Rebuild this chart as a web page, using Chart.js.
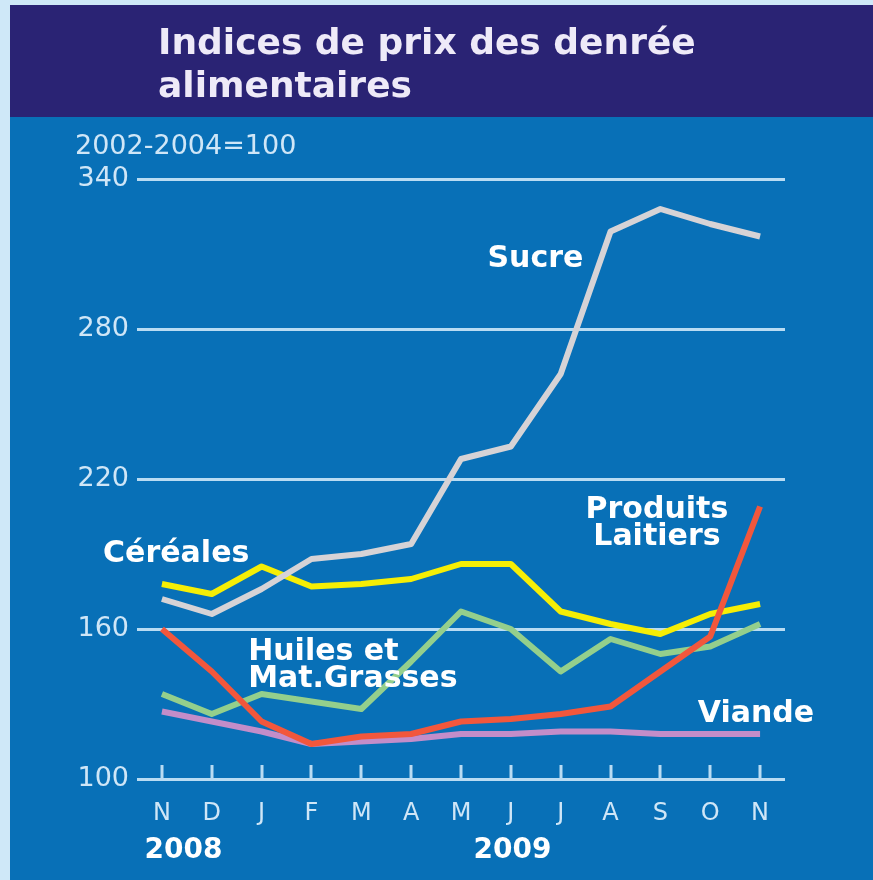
<!DOCTYPE html>
<html>
<head>
<meta charset="utf-8">
<script src="https://cdn.jsdelivr.net/npm/chart.js@4.4.1/dist/chart.umd.min.js"></script>
<style>
  html, body { margin: 0; padding: 0; background: #cfe8f8; }
  #chart { display: block; }
</style>
</head>
<body>
<canvas id="chart" width="873" height="880"></canvas>
<script>
// mois nov. 2008 -> nov. 2009
const months = ["N", "D", "J", "F", "M", "A", "M", "J", "J", "A", "S", "O", "N"];
const years = [{ text: "2008", idx: -0.35 }, { text: "2009", idx: 6.25 }];

// indices (2002-2004=100)
const sucre    = [172, 166, 176, 188, 190, 194, 228, 233, 262, 319, 328, 322, 317];
const cereales = [178, 174, 185, 177, 178, 180, 186, 186, 167, 162, 158, 166, 170];
const huiles   = [134, 126, 134, 131, 128, 147, 167, 160, 143, 156, 150, 153, 162];
const laitiers = [160, 143, 123, 114, 117, 118, 123, 124, 126, 129, 143, 157, 209];
const viande   = [127, 123, 119, 114, 115, 116, 118, 118, 119, 119, 118, 118, 118];

const yTicks = [100, 160, 220, 280, 340];

// étiquettes des séries, ancrées en unités de données (index du mois, valeur)
const seriesLabels = [
  { lines: ["Sucre"], idx: 6.53, val: 304.8, align: "left" },
  { lines: ["Céréales"], idx: -1.18, val: 186.8, align: "left" },
  { lines: ["Huiles et", "Mat.Grasses"], idx: 1.73, val: 147.6, align: "left" },
  { lines: ["Produits", "Laitiers"], idx: 9.93, val: 204.4, align: "center" },
  { lines: ["Viande"], idx: 10.75, val: 122.8, align: "left" }
];

const LIGHT = "#cfe6f7";
const GRID = "#b9dcf3";

const decor = {
  id: "decor",
  beforeDraw(chart) {
    const { ctx, width, height } = chart;
    ctx.save();
    ctx.fillStyle = "#cfe8f8";
    ctx.fillRect(0, 0, width, height);
    ctx.fillStyle = "#2a2374";
    ctx.fillRect(10, 5, width - 10, 112);
    ctx.fillStyle = "#0870b7";
    ctx.fillRect(10, 117, width - 10, height - 117);

    ctx.fillStyle = "#eeeaf8";
    ctx.font = "bold 36px 'DejaVu Sans'";
    ctx.textBaseline = "alphabetic";
    ctx.fillText("Indices de prix des denrée", 158, 54);
    ctx.fillText("alimentaires", 158, 97);

    ctx.fillStyle = LIGHT;
    ctx.font = "27px 'DejaVu Sans'";
    ctx.fillText("2002-2004=100", 75, 154);
    ctx.restore();
  },
  beforeDatasetsDraw(chart) {
    const { ctx, scales: { x, y } } = chart;
    const base = y.getPixelForValue(yTicks[0]);
    ctx.save();
    ctx.strokeStyle = GRID;
    ctx.lineWidth = 3;
    months.forEach((m, i) => {
      const px = Math.round(x.getPixelForValue(i));
      ctx.beginPath();
      ctx.moveTo(px, base - 14);
      ctx.lineTo(px, base - 1);
      ctx.stroke();
    });
    ctx.restore();
  },
  afterDraw(chart) {
    const { ctx, scales: { x, y } } = chart;
    ctx.save();
    ctx.fillStyle = "#ffffff";
    ctx.font = "bold 30px 'DejaVu Sans'";
    ctx.textBaseline = "alphabetic";
    seriesLabels.forEach(l => {
      ctx.textAlign = l.align;
      const px = x.getPixelForValue(l.idx);
      const py = y.getPixelForValue(l.val);
      l.lines.forEach((t, k) => ctx.fillText(t, px, py + k * 27));
    });
    ctx.textAlign = "left";
    ctx.font = "bold 28px 'DejaVu Sans'";
    years.forEach(yr => ctx.fillText(yr.text, x.getPixelForValue(yr.idx), 858));
    ctx.restore();
  }
};

const line = (data, color) => ({
  data,
  borderColor: color,
  borderWidth: 6,
  pointRadius: 0,
  tension: 0,
  borderJoinStyle: "round",
  fill: false
});

new Chart(document.getElementById("chart"), {
  type: "line",
  data: {
    labels: months,
    datasets: [
      line(laitiers, "#f2573c"),
      line(sucre, "#d6d3d6"),
      line(cereales, "#f6ee05"),
      line(huiles, "#94cf8c"),
      line(viande, "#c38dc9")
    ]
  },
  options: {
    responsive: false,
    animation: false,
    devicePixelRatio: 1,
    layout: { padding: { top: 179, right: 88, bottom: 0, left: 0 } },
    plugins: { legend: { display: false }, tooltip: { enabled: false } },
    scales: {
      x: {
        offset: true,
        grid: { display: false },
        border: { display: false },
        ticks: {
          color: LIGHT,
          font: { family: "DejaVu Sans", size: 24 },
          padding: 12,
          autoSkip: false,
          maxRotation: 0
        },
        afterFit: s => { s.height = 101; }
      },
      y: {
        min: 100,
        max: 340,
        afterBuildTicks: s => { s.ticks = yTicks.map(v => ({ value: v })); },
        grid: { color: GRID, lineWidth: 3, drawTicks: false },
        border: { display: false },
        ticks: {
          color: LIGHT,
          font: { family: "DejaVu Sans", size: 27 },
          padding: 8
        },
        afterFit: s => { s.width = 137; }
      }
    }
  },
  plugins: [decor]
});
</script>
</body>
</html>
